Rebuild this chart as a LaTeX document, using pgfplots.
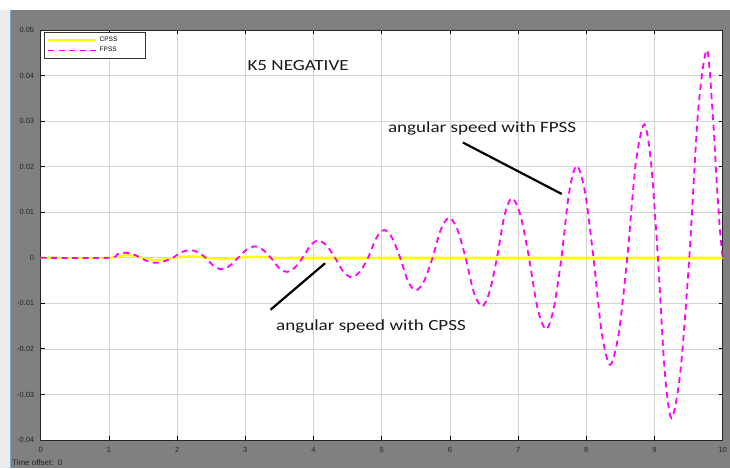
\documentclass[border=0pt]{standalone}
\usepackage{fontspec}
\setmainfont{Liberation Sans}
\newfontfamily\annfont[FakeStretch=1.23]{Carlito}
\usepackage{pgfplots}
\pgfplotsset{compat=1.18}
\definecolor{panel}{RGB}{128,128,128}
\definecolor{lightstrip}{RGB}{236,236,236}
\definecolor{bluestrip}{RGB}{120,170,210}
\definecolor{cyel}{RGB}{255,255,0}
\definecolor{fmag}{RGB}{255,0,255}
\definecolor{gridc}{RGB}{212,212,212}

\pgfplotstableread{
t v
0 0
1.0 0
1.25 0.0006
1.5 0
1.7 -0.0005
1.95 0
2.2 0.0003
2.45 0
2.65 -0.0003
2.9 0
3.15 0.0002
3.6 -0.0001
4.0 0
10 0
}\cpss

\pgfplotstableread{
t v
0 0
1.0 0
1.125 0.00078
1.25 0.0011
1.3575 0.00078
1.465 0
1.5725 -0.00078
1.68 -0.0011
1.8075 -0.00078
1.935 0
2.0625 0.0012
2.19 0.0017
2.305 0.0012
2.42 0
2.535 -0.00177
2.65 -0.0025
2.7725 -0.00177
2.895 0
3.0175 0.00177
3.14 0.0025
3.2575 0.00177
3.375 0
3.4925 -0.00219
3.61 -0.0031
3.725 -0.00219
3.84 0
3.955 0.00269
4.07 0.0038
4.1925 0.00269
4.315 0
4.4375 -0.00304
4.56 -0.0043
4.68 -0.00304
4.80 0
4.92 0.00431
5.04 0.0061
5.155 0.00431
5.27 0
5.385 -0.00509
5.50 -0.0072
5.6225 -0.00509
5.745 0
5.8675 0.00622
5.99 0.0088
6.11 0.00622
6.23 0
6.35 -0.00756
6.47 -0.0107
6.58 -0.00756
6.69 0
6.80 0.00926
6.91 0.0131
7.035 0.00926
7.16 0
7.285 -0.0111
7.41 -0.0157
7.5225 -0.0111
7.635 0
7.7475 0.01428
7.86 0.0202
7.9825 0.01428
8.105 0
8.2275 -0.01661
8.35 -0.0235
8.475 -0.01661
8.60 0
8.725 0.02072
8.85 0.0293
8.95 0.02072
9.05 0
9.15 -0.02489
9.25 -0.0352
9.38 -0.02489
9.51 0
9.64 0.03224
9.77 0.0456
9.86 0.030
9.91 0.017
9.96 0.006
10 0
}\fpss

\begin{document}
\begin{tikzpicture}[x=1pt,y=1pt]
\path[use as bounding box] (0,0) rectangle (730,468);
\fill[white] (0,0) rectangle (730,468);
\fill[lightstrip] (0,0) rectangle (10,458);
\fill[panel] (11,0) rectangle (730,458);
\fill[bluestrip] (10,0) rectangle (11.2,458);
\node[anchor=west, font=\fontsize{8}{9}\selectfont, text=black!85, inner sep=0] at (12,5) {Time offset:\ \ 0};
\begin{axis}[
  at={(40.7pt,28pt)}, anchor=south west,
  scale only axis, width=682pt, height=410pt,
  xmin=0, xmax=10, ymin=-0.04, ymax=0.05,
  scaled y ticks=false, scaled x ticks=false,
  axis background/.style={fill=white},
  axis line style={black!85, line width=0.8pt},
  xtick={0,1,2,3,4,5,6,7,8,9,10},
  xticklabels={0,1,2,3,4,5,6,7,8,9,10},
  ytick={-0.04,-0.03,-0.02,-0.01,0,0.01,0.02,0.03,0.04,0.05},
  yticklabels={-0.04,-0.03,-0.02,-0.01,0,0.01,0.02,0.03,0.04,0.05},
  tick align=inside,
  major tick length=4pt,
  tick style={black, line width=0.8pt},
  grid=major,
  major grid style={gridc, line width=0.7pt},
  ticklabel style={font=\fontsize{7.5}{8}\selectfont, text=black!85},
  yticklabel style={xshift=-3pt},
  xticklabel style={yshift=-3.5pt},
  legend style={at={(0.005,0.995)}, anchor=north west, draw=black!80, fill=white,
     font=\fontsize{6.5}{7}\selectfont, inner xsep=3pt, inner ysep=2.5pt,
     nodes={inner sep=2.2pt}},
  legend cell align=left,
  legend image code/.code={\draw[#1] (0pt,0pt) -- (48pt,0pt);},
]
\addplot[cyel, line width=2.2pt, smooth] table[x=t,y=v] {\cpss};
\addlegendentry{\makebox[40pt][l]{CPSS}}
\addplot[fmag, line width=1.8pt, dash pattern=on 6pt off 4.5pt, smooth] table[x=t,y=v] {\fpss};
\addlegendentry{\makebox[40pt][l]{FPSS}}

\node[anchor=west, font=\annfont\fontsize{15.5}{16}\selectfont, text=black!90, inner sep=0] at (axis cs:3.03,0.0421) {K5 NEGATIVE};
\node[anchor=west, font=\annfont\fontsize{15.5}{16}\selectfont, text=black!90, inner sep=0] at (axis cs:5.09,0.0283) {angular speed with FPSS};
\node[anchor=west, font=\annfont\fontsize{15.5}{16}\selectfont, text=black!90, inner sep=0] at (axis cs:3.45,-0.0151) {angular speed with CPSS};
\draw[black, line width=2.2pt] (axis cs:6.19,0.0253) -- (axis cs:7.64,0.0140);
\draw[black, line width=2.2pt] (axis cs:3.37,-0.0114) -- (axis cs:4.17,-0.0012);
\end{axis}
\end{tikzpicture}
\end{document}
